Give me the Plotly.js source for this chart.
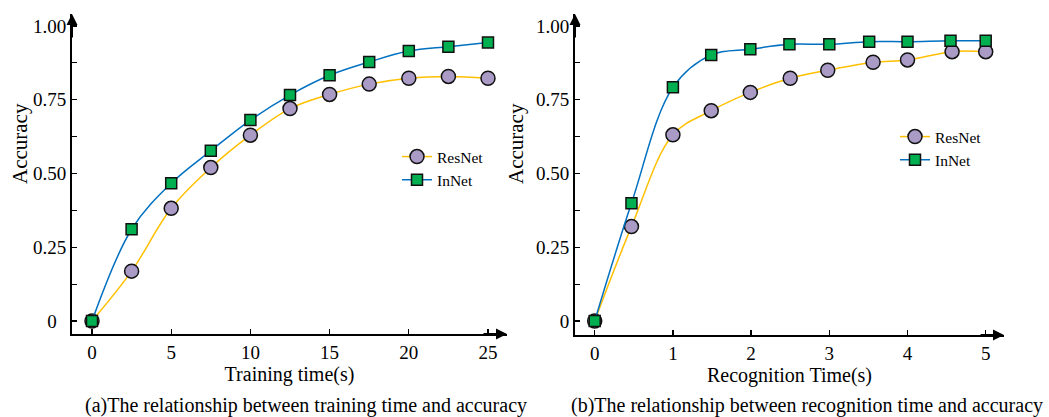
<!DOCTYPE html>
<html>
<head>
<meta charset="utf-8">
<script src="https://cdn.plot.ly/plotly-3.0.1.min.js"></script>
<style>html,body{margin:0;padding:0;background:#fff;}#chart{width:1049px;height:417px;}</style>
</head>
<body>
<div id="chart"></div>
<script>
// Left chart: training time vs accuracy
const trainTime = [0, 2.5, 5, 7.5, 10, 12.5, 15, 17.5, 20, 22.5, 25];
const trainResNet = [0, 0.169, 0.382, 0.520, 0.630, 0.720, 0.768, 0.803, 0.823, 0.829, 0.823];
const trainInNet = [0, 0.311, 0.467, 0.577, 0.681, 0.766, 0.833, 0.878, 0.915, 0.930, 0.944];

// Right chart: recognition time vs accuracy
const recTimeResNet = [0, 0.47, 1, 1.49, 1.99, 2.5, 2.98, 3.56, 4, 4.57, 5];
const recResNet = [0, 0.320, 0.631, 0.713, 0.775, 0.823, 0.850, 0.877, 0.885, 0.913, 0.913];
const recTimeInNet = [0, 0.47, 1, 1.49, 1.99, 2.49, 3.0, 3.51, 4, 4.55, 5];
const recInNet = [0, 0.399, 0.792, 0.902, 0.921, 0.938, 0.938, 0.947, 0.947, 0.950, 0.950];

const seriesNames = ['ResNet', 'InNet'];
const yTickVals = [0, 0.25, 0.5, 0.75, 1.0];
const yTickTextLeft = ['0\u00a0\u00a0', '0.25', '0.50', '0.75', '1.00'];
const yTickTextRight = ['0', '0.25', '0.50', '0.75', '1.00'];
const xTickLeft = [0, 5, 10, 15, 20, 25];
const xTickRight = [0, 1, 2, 3, 4, 5];

const FONT = 'Liberation Serif, Times New Roman, serif';
const W = 1049, H = 417;
const yellow = '#FFC000', blue = '#0070C0';
const resMarker = {symbol: 'circle', size: 14, color: '#A99BC5', line: {color: '#111', width: 1.5}};
const inMarker = {symbol: 'square', size: 11, color: '#00B050', line: {color: '#111', width: 1.5}};

const traces = [
  {x: trainTime, y: trainResNet, name: seriesNames[0], mode: 'lines+markers', line: {color: yellow, width: 1.5, shape: 'spline'}, marker: resMarker, xaxis: 'x', yaxis: 'y', legend: 'legend'},
  {x: trainTime, y: trainInNet, name: seriesNames[1], mode: 'lines+markers', line: {color: blue, width: 1.5, shape: 'spline'}, marker: inMarker, xaxis: 'x', yaxis: 'y', legend: 'legend'},
  {x: recTimeResNet, y: recResNet, name: seriesNames[0], mode: 'lines+markers', line: {color: yellow, width: 1.5, shape: 'spline'}, marker: resMarker, xaxis: 'x2', yaxis: 'y2', legend: 'legend2'},
  {x: recTimeInNet, y: recInNet, name: seriesNames[1], mode: 'lines+markers', line: {color: blue, width: 1.5, shape: 'spline'}, marker: inMarker, xaxis: 'x2', yaxis: 'y2', legend: 'legend2'}
];

function xAxis(domain, range, ticks, title) {
  return {
    domain: domain, range: range, tickvals: ticks, ticktext: ticks.map(String),
    showline: true, linecolor: '#000', linewidth: 2, zeroline: false, showgrid: false,
    ticks: 'inside', ticklen: 5, tickwidth: 1.2, tickcolor: '#000',
    tickfont: {family: FONT, size: 19, color: '#000'},
    title: {text: title, font: {family: FONT, size: 20, color: '#000'}, standoff: 3},
    fixedrange: true
  };
}
function yAxis(domain, range, anchor, ticktext) {
  return {
    domain: domain, range: range, anchor: anchor, tickvals: yTickVals, ticktext: ticktext,
    showline: true, linecolor: '#000', linewidth: 2, zeroline: false, showgrid: false,
    ticks: 'inside', ticklen: 5, tickwidth: 1.2, tickcolor: '#000',
    minor: {ticks: 'inside', ticklen: 5, tickwidth: 1.2, tickcolor: '#000', dtick: 0.125, tick0: 0},
    tickfont: {family: FONT, size: 19, color: '#000'},
    fixedrange: true
  };
}

const layout = {
  width: W, height: H,
  margin: {l: 0, r: 0, t: 0, b: 0},
  paper_bgcolor: '#fff', plot_bgcolor: '#fff',
  font: {family: FONT, color: '#000'},
  xaxis: Object.assign(xAxis([72 / W, 507 / W], [-1.263, 26.2], xTickLeft, 'Training time(s)'), {anchor: 'y'}),
  yaxis: yAxis([1 - 334 / H, 1 - 14 / H], [-0.0441, 1.0407], 'x', yTickTextLeft),
  xaxis2: Object.assign(xAxis([575 / W, 1004 / W], [-0.252, 5.234], xTickRight, 'Recognition Time(s)'), {anchor: 'y2'}),
  yaxis2: yAxis([1 - 335 / H, 1 - 14 / H], [-0.0475, 1.0407], 'x2', yTickTextRight),
  legend: {x: 397 / W, y: 1 - 140 / H, xanchor: 'left', yanchor: 'top', bgcolor: 'rgba(0,0,0,0)', borderwidth: 0,
           font: {family: FONT, size: 15.5, color: '#000'}, tracegroupgap: 0},
  legend2: {x: 895 / W, y: 1 - 120 / H, xanchor: 'left', yanchor: 'top', bgcolor: 'rgba(0,0,0,0)', borderwidth: 0,
           font: {family: FONT, size: 15.5, color: '#000'}, tracegroupgap: 0},
  showlegend: true,
  annotations: [
    // axis arrows
    {xref: 'x domain', yref: 'y domain', x: 1, y: 0, ax: -25, ay: 0, showarrow: true, arrowhead: 2, arrowsize: 1.1, arrowwidth: 2, arrowcolor: '#000', text: ''},
    {xref: 'x domain', yref: 'y domain', x: 0, y: 1, ax: 0, ay: 25, showarrow: true, arrowhead: 2, arrowsize: 1.1, arrowwidth: 2, arrowcolor: '#000', text: ''},
    {xref: 'x2 domain', yref: 'y2 domain', x: 1, y: 0, ax: -25, ay: 0, showarrow: true, arrowhead: 2, arrowsize: 1.1, arrowwidth: 2, arrowcolor: '#000', text: ''},
    {xref: 'x2 domain', yref: 'y2 domain', x: 0, y: 1, ax: 0, ay: 25, showarrow: true, arrowhead: 2, arrowsize: 1.1, arrowwidth: 2, arrowcolor: '#000', text: ''},
    // y titles
    {xref: 'paper', yref: 'paper', x: 20 / W, y: 1 - 144 / H, text: 'Accuracy', textangle: -90, showarrow: false,
     font: {family: FONT, size: 21, color: '#000'}, xanchor: 'center', yanchor: 'middle'},
    {xref: 'paper', yref: 'paper', x: 516 / W, y: 1 - 144 / H, text: 'Accuracy', textangle: -90, showarrow: false,
     font: {family: FONT, size: 21, color: '#000'}, xanchor: 'center', yanchor: 'middle'},
    // captions
    {xref: 'paper', yref: 'paper', x: 306 / W, y: 1 - 405 / H, text: '(a)The relationship between training time and accuracy', showarrow: false,
     font: {family: FONT, size: 20, color: '#000'}, xanchor: 'center', yanchor: 'middle'},
    {xref: 'paper', yref: 'paper', x: 807 / W, y: 1 - 405 / H, text: '(b)The relationship between recognition time and accuracy', showarrow: false,
     font: {family: FONT, size: 20, color: '#000'}, xanchor: 'center', yanchor: 'middle'}
  ]
};

Plotly.newPlot('chart', traces, layout, {staticPlot: true, displayModeBar: false});
</script>
</body>
</html>
